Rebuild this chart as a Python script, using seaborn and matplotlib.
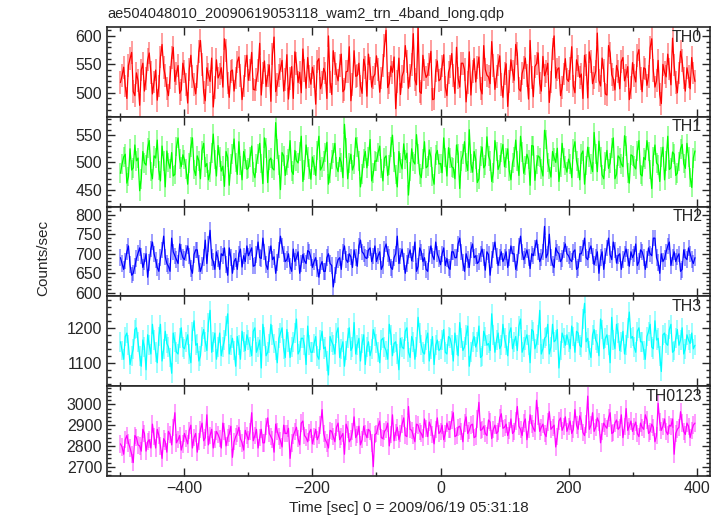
import numpy as np
import pandas as pd
import matplotlib
matplotlib.use("Agg")
import matplotlib.pyplot as plt
import seaborn as sns
from matplotlib.ticker import MultipleLocator, AutoMinorLocator

# -------------------------------
# Data
# bins of 2.5 s: "even" bins start at t_start, "odd" bins sit 2.5 s later
# -------------------------------

t_start = -500
t_step = 5

th0_even = [518, 545, 490, 560, 502, 535, 478, 552, 525, 570, 498, 540, 512, 585, 530, 495, 562, 520, 548, 505,
            537, 482, 566, 515, 528, 592, 501, 544, 520, 475, 558, 533, 510, 575, 492, 540, 526, 563, 488, 547,
            522, 571, 505, 539, 496, 556, 530, 485, 598, 514, 542, 503, 567, 525, 490, 551, 536, 577, 508, 529,
            545, 480, 560, 518, 535, 600, 497, 552, 521, 568, 506, 538, 486, 574, 530, 512, 559, 494, 543, 527,
            565, 501, 548, 610, 517, 536, 472, 561, 529, 583, 508, 550, 523, 615, 499, 540, 532, 573, 489, 556,
            524, 567, 495, 546, 531, 580, 510, 552, 484, 572, 537, 519, 563, 498, 541, 528, 590, 506, 549, 515,
            534, 476, 558, 522, 569, 503, 545, 530, 592, 493, 551, 517, 564, 538, 483, 577, 526, 544, 509, 560,
            520, 581, 500, 547, 533, 566, 491, 555, 527, 605, 512, 539, 496, 570, 524, 548, 507, 562, 531, 488,
            553, 519, 576, 502, 542, 528, 595, 510, 557, 481, 536, 568, 514, 549, 500, 573, 526, 544, 507, 535]
th0_odd = [530, 512, 548, 571, 495, 521, 540, 503, 558, 536, 519, 487, 563, 544, 508, 527, 580, 534, 499, 552,
           515, 541, 529, 498, 573, 550, 486, 532, 561, 509, 526, 544, 595, 517, 538, 503, 554, 530, 512, 566,
           540, 506, 523, 587, 535, 511, 549, 568, 502, 531, 557, 524, 489, 546, 572, 518, 500, 539, 562, 515,
           528, 555, 507, 543, 490, 519, 574, 533, 548, 502, 537, 581, 515, 529, 552, 499, 545, 568, 510, 533,
           541, 526, 583, 509, 547, 563, 520, 497, 538, 555, 531, 604, 514, 502, 566, 527, 550, 488, 539, 521,
           547, 510, 536, 569, 499, 526, 552, 541, 518, 496, 560, 545, 507, 583, 531, 516, 548, 529, 565, 492,
           551, 520, 538, 585, 507, 534, 561, 489, 527, 546, 570, 503, 530, 552, 519, 600, 541, 495, 533, 524,
           543, 512, 558, 527, 490, 549, 572, 516, 538, 522, 561, 498, 583, 532, 505, 537, 555, 521, 546, 509,
           531, 566, 525, 544, 513, 579, 539, 521, 497, 550, 528, 542, 596, 518, 535, 557, 503, 529, 562, 520]

th1_even = [480, 510, 462, 525, 490, 503, 448, 520, 495, 540, 470, 508, 485, 530, 455, 500, 518, 478, 545, 492,
            505, 460, 528, 487, 512, 470, 535, 498, 482, 552, 475, 510, 493, 520, 458, 515, 500, 538, 468, 506,
            490, 530, 472, 515, 498, 545, 463, 508, 486, 525, 450, 512, 495, 540, 478, 503, 520, 465, 532, 488,
            510, 476, 548, 492, 518, 460, 505, 535, 483, 500, 570, 470, 515, 496, 528, 455, 507, 490, 542, 480,
            502, 530, 466, 512, 495, 550, 478, 520, 488, 505, 440, 525, 497, 515, 472, 538, 493, 510, 460, 522,
            498, 545, 475, 508, 490, 532, 452, 515, 500, 560, 482, 506, 470, 528, 495, 512, 465, 540, 487, 518,
            492, 525, 468, 510, 503, 548, 480, 515, 458, 530, 496, 509, 475, 542, 488, 520, 500, 465, 535, 494,
            506, 472, 538, 490, 515, 460, 528, 497, 555, 483, 510, 470, 522, 499, 545, 478, 508, 492, 530, 462,
            512, 488, 540, 475, 505, 520, 452, 532, 495, 510, 468, 548, 490, 515, 480, 525, 498, 535, 472, 508]
th1_odd = [497, 515, 474, 486, 532, 508, 470, 499, 527, 483, 512, 541, 466, 503, 521, 489, 475, 529, 506, 514,
           488, 499, 545, 476, 503, 522, 492, 468, 517, 505, 531, 484, 456, 509, 497, 543, 478, 494, 520, 487,
           510, 482, 498, 535, 461, 527, 504, 489, 573, 495, 518, 476, 507, 484, 522, 499, 548, 486, 510, 469,
           495, 522, 486, 503, 537, 481, 517, 492, 509, 472, 526, 499, 486, 545, 503, 479, 520, 511, 466, 503,
           518, 489, 508, 476, 528, 501, 455, 499, 534, 517, 483, 502, 551, 479, 506, 490, 523, 474, 514, 497,
           481, 509, 527, 492, 470, 516, 503, 538, 485, 498, 520, 463, 512, 490, 547, 503, 481, 520, 496, 533,
           508, 484, 499, 541, 476, 519, 494, 505, 531, 467, 512, 488, 559, 500, 473, 509, 526, 491, 508, 482,
           497, 525, 503, 468, 521, 494, 510, 483, 515, 539, 477, 502, 489, 526, 470, 512, 497, 549, 481, 514,
           493, 521, 478, 509, 540, 487, 511, 499, 465, 528, 503, 487, 519, 476, 502, 533, 489, 510, 454, 521]

th2_even = [690, 660, 705, 672, 650, 688, 715, 665, 700, 678, 730, 684, 655, 710, 692, 668, 740, 695, 675, 705,
            685, 720, 662, 698, 710, 655, 690, 675, 760, 680, 705, 660, 695, 672, 715, 650, 688, 700, 666, 680,
            695, 715, 670, 730, 688, 705, 660, 720, 692, 678, 745, 700, 685, 668, 712, 690, 650, 698, 675, 705,
            665, 690, 640, 680, 655, 700, 670, 645, 685, 660, 720, 678, 692, 710, 668, 735, 700, 688, 715, 695,
            680, 705, 670, 725, 690, 660, 700, 675, 712, 650, 695, 682, 730, 668, 705, 690, 655, 720, 685, 700,
            672, 715, 688, 660, 705, 690, 740, 678, 700, 665, 725, 695, 680, 712, 658, 698, 685, 730, 670, 705,
            690, 665, 720, 700, 678, 745, 685, 710, 662, 695, 735, 680, 705, 690, 750, 672, 715, 700, 688, 725,
            695, 680, 710, 665, 700, 740, 685, 720, 672, 705, 690, 660, 715, 698, 730, 676, 700, 685, 712, 668,
            690, 725, 680, 705, 660, 715, 695, 740, 678, 700, 688, 720, 670, 705, 692, 655, 710, 685, 700, 675]
th2_odd = [675, 682, 720, 645, 668, 702, 695, 680, 640, 712, 700, 665, 690, 745, 675, 655, 705, 685, 725, 690,
           702, 695, 650, 710, 675, 670, 735, 725, 690, 660, 688, 700, 715, 645, 690, 680, 660, 712, 695, 720,
           705, 668, 698, 690, 740, 672, 700, 685, 650, 710, 720, 680, 700, 655, 680, 705, 675, 682, 708, 690,
           680, 662, 670, 655, 690, 675, 615, 670, 690, 705, 685, 700, 665, 690, 720, 705, 690, 710, 680, 720,
           695, 660, 712, 700, 665, 690, 745, 695, 680, 675, 710, 700, 655, 715, 680, 660, 700, 695, 730, 688,
           700, 670, 665, 705, 690, 725, 705, 655, 685, 710, 690, 675, 700, 690, 705, 645, 710, 695, 690, 680,
           705, 690, 700, 660, 720, 705, 695, 690, 700, 715, 705, 690, 770, 700, 690, 665, 705, 680, 710, 700,
           685, 705, 660, 700, 715, 690, 710, 695, 690, 650, 705, 695, 740, 685, 710, 695, 660, 700, 690, 705,
           700, 670, 710, 690, 685, 700, 740, 690, 650, 680, 705, 730, 690, 680, 700, 660, 690, 715, 685, 690]

th3_even = [1160, 1110, 1185, 1095, 1140, 1200, 1120, 1165, 1080, 1150, 1210, 1130, 1175, 1105, 1190, 1145, 1070, 1160, 1125, 1200,
            1140, 1180, 1100, 1220, 1155, 1120, 1195, 1135, 1250, 1160, 1110, 1185, 1145, 1205, 1125, 1170, 1090, 1150, 1190, 1135,
            1165, 1120, 1200, 1145, 1085, 1175, 1130, 1210, 1155, 1100, 1185, 1140, 1195, 1115, 1160, 1225, 1135, 1170, 1095, 1150,
            1130, 1175, 1110, 1190, 1145, 1065, 1160, 1125, 1200, 1140, 1090, 1170, 1135, 1215, 1150, 1105, 1180, 1145, 1120, 1195,
            1155, 1100, 1170, 1135, 1210, 1120, 1160, 1080, 1145, 1190, 1130, 1175, 1110, 1230, 1150, 1125, 1185, 1140, 1095, 1165,
            1140, 1195, 1125, 1170, 1105, 1150, 1215, 1135, 1180, 1090, 1160, 1145, 1205, 1120, 1175, 1155, 1240, 1130, 1185, 1150,
            1170, 1120, 1200, 1160, 1135, 1225, 1145, 1180, 1100, 1190, 1155, 1250, 1140, 1175, 1125, 1210, 1165, 1085, 1185, 1150,
            1160, 1205, 1130, 1185, 1145, 1270, 1170, 1115, 1195, 1155, 1225, 1140, 1180, 1100, 1165, 1210, 1135, 1190, 1150, 1245,
            1175, 1130, 1200, 1160, 1110, 1190, 1145, 1220, 1170, 1075, 1185, 1150, 1210, 1135, 1195, 1165, 1125, 1180, 1155, 1140]
th3_odd = [1135, 1175, 1150, 1120, 1195, 1160, 1090, 1145, 1180, 1125, 1165, 1100, 1210, 1140, 1155, 1115, 1185, 1130, 1170, 1145,
           1160, 1125, 1190, 1150, 1105, 1175, 1160, 1215, 1130, 1185, 1145, 1120, 1165, 1240, 1150, 1135, 1175, 1110, 1160, 1180,
           1145, 1190, 1130, 1165, 1210, 1120, 1155, 1180, 1135, 1170, 1200, 1115, 1160, 1145, 1185, 1125, 1170, 1150, 1205, 1130,
           1155, 1120, 1165, 1140, 1105, 1175, 1150, 1185, 1115, 1160, 1135, 1200, 1145, 1125, 1170, 1155, 1095, 1160, 1140, 1175,
           1130, 1165, 1145, 1110, 1180, 1155, 1125, 1170, 1140, 1200, 1115, 1160, 1145, 1185, 1130, 1165, 1105, 1175, 1150, 1135,
           1165, 1130, 1175, 1150, 1185, 1120, 1170, 1145, 1205, 1130, 1175, 1160, 1115, 1190, 1150, 1135, 1180, 1165, 1140, 1210,
           1150, 1185, 1140, 1175, 1205, 1130, 1165, 1150, 1195, 1140, 1180, 1125, 1170, 1210, 1145, 1160, 1195, 1135, 1170, 1180,
           1140, 1175, 1190, 1150, 1225, 1160, 1135, 1180, 1165, 1120, 1195, 1170, 1150, 1230, 1140, 1185, 1160, 1125, 1200, 1170,
           1145, 1190, 1160, 1135, 1175, 1210, 1140, 1165, 1120, 1180, 1155, 1195, 1130, 1170, 1150, 1200, 1140, 1165, 1185, 1150]

th0123_even = [2810, 2760, 2850, 2790, 2720, 2840, 2800, 2880, 2775, 2830, 2905, 2790, 2850, 2740, 2820, 2870, 2805, 2960, 2830, 2780,
               2860, 2810, 2900, 2840, 2770, 2880, 2825, 2950, 2850, 2790, 2870, 2835, 2910, 2800, 2860, 2745, 2845, 2890, 2815, 2875,
               2830, 2960, 2850, 2790, 2880, 2815, 2935, 2845, 2770, 2870, 2825, 2900, 2860, 2740, 2850, 2890, 2805, 2920, 2840, 2865,
               2810, 2880, 2850, 2975, 2830, 2790, 2870, 2820, 2910, 2845, 2760, 2880, 2835, 2940, 2855, 2805, 2895, 2840, 2870, 2700,
               2860, 2920, 2835, 2880, 2800, 2950, 2865, 2830, 2905, 2850, 2990, 2875, 2820, 2900, 2860, 2930, 2845, 2890, 2810, 2935,
               2870, 2830, 2910, 2880, 2960, 2850, 2895, 2820, 2940, 2875, 2905, 2845, 3010, 2880, 2860, 2925, 2835, 2900, 2870, 2955,
               2890, 2850, 2930, 2870, 2990, 2880, 2910, 2830, 2950, 2885, 3020, 2870, 2905, 2845, 2965, 2890, 2795, 2920, 2875, 2940,
               2895, 2860, 2975, 2880, 2920, 2850, 3040, 2900, 2870, 2935, 2815, 2910, 2885, 2960, 2865, 2925, 2890, 2840, 2980, 2895,
               2870, 2915, 2845, 2890, 2950, 2860, 2905, 2820, 3005, 2875, 2930, 2855, 2895, 2760, 2880, 2965, 2870, 2910, 2840, 2900]
th0123_odd = [2795, 2830, 2815, 2760, 2850, 2805, 2775, 2860, 2820, 2790, 2845, 2880, 2800, 2835, 2770, 2855, 2890, 2815, 2850, 2810,
              2835, 2875, 2790, 2860, 2820, 2910, 2840, 2805, 2880, 2830, 2855, 2790, 2870, 2840, 2895, 2820, 2860, 2835, 2780, 2850,
              2870, 2825, 2880, 2840, 2815, 2895, 2860, 2830, 2905, 2845, 2795, 2860, 2885, 2815, 2870, 2835, 2910, 2850, 2820, 2880,
              2845, 2830, 2900, 2860, 2815, 2875, 2845, 2890, 2830, 2860, 2905, 2820, 2870, 2840, 2895, 2830, 2860, 2880, 2815, 2855,
              2895, 2840, 2870, 2910, 2855, 2825, 2890, 2860, 2935, 2845, 2880, 2850, 2905, 2870, 2840, 2885, 2915, 2855, 2880, 2860,
              2900, 2860, 2880, 2925, 2845, 2890, 2870, 2910, 2860, 2900, 2840, 2930, 2875, 2895, 2850, 2915, 2880, 2860, 2935, 2885,
              2905, 2875, 2860, 2920, 2895, 2850, 2930, 2880, 2905, 2870, 2945, 2890, 2860, 2915, 2880, 2900, 2845, 2935, 2895, 2870,
              2920, 2880, 2900, 2945, 2865, 2905, 2880, 2960, 2890, 2915, 2870, 2895, 2935, 2860, 2910, 2880, 2950, 2895, 2875, 2920,
              2895, 2860, 2910, 2880, 2925, 2870, 2890, 2850, 2915, 2895, 2870, 2900, 2930, 2860, 2890, 2910, 2855, 2895, 2875, 2910]

bands = ["TH0", "TH1", "TH2", "TH3", "TH0123"]
errors = [20, 18, 21, 28, 42]

# -------------------------------
# Build data frame
# -------------------------------

t_even = t_start + t_step * np.arange(len(th0_even))
t_odd = t_even + t_step / 2

df_even = pd.DataFrame({"time": t_even, "TH0": th0_even, "TH1": th1_even,
                        "TH2": th2_even, "TH3": th3_even, "TH0123": th0123_even})
df_odd = pd.DataFrame({"time": t_odd, "TH0": th0_odd, "TH1": th1_odd,
                       "TH2": th2_odd, "TH3": th3_odd, "TH0123": th0123_odd})
df = pd.concat([df_even, df_odd]).sort_values("time").reset_index(drop=True)

colors = ["#ff0000", "#00ff00", "#0000ff", "#00ffff", "#ff00ff"]
ylims = [(458, 616), (419, 584), (591, 821), (1033, 1290), (2655, 3088)]
ymajor = [50, 50, 50, 100, 100]

# -------------------------------
# Plot
# -------------------------------

sns.set_style("ticks")
plt.rcParams['font.family'] = ['Liberation Sans', 'DejaVu Sans']

fig, axes = plt.subplots(5, 1, figsize=(7.23, 5.16), dpi=100, sharex=True)
fig.subplots_adjust(left=0.148, right=0.982, top=0.948, bottom=0.0775, hspace=0)

for ax, band, col, err, ylim, step in zip(axes, bands, colors, errors, ylims, ymajor):
    ax.errorbar(df["time"], df[band], yerr=err, fmt="none",
                ecolor=col, alpha=0.45, elinewidth=1.2)
    sns.lineplot(data=df, x="time", y=band, ax=ax, color=col,
                 linewidth=0.9, estimator=None)

    ax.set_xlim(-521, 421)
    ax.set_ylim(*ylim)
    ax.set_ylabel("")
    ax.set_xlabel("")

    ax.xaxis.set_major_locator(MultipleLocator(200))
    ax.xaxis.set_minor_locator(MultipleLocator(100))
    ax.yaxis.set_major_locator(MultipleLocator(step))
    ax.yaxis.set_minor_locator(AutoMinorLocator(5))
    ax.tick_params(which="both", direction="in", top=True, right=True,
                   labelsize=11.5, width=1)
    ax.tick_params(which="major", length=6)
    ax.tick_params(which="minor", length=3)
    for s in ax.spines.values():
        s.set_linewidth(1.2)

    ax.text(0.987, 0.97, band, transform=ax.transAxes, ha="right",
            va="top", fontsize=11.5)

axes[-1].set_xlabel("Time [sec] 0 = 2009/06/19 05:31:18", fontsize=11)
fig.text(0.06, 0.5, "Counts/sec", rotation=90, va="center", ha="center",
         fontsize=11)
fig.text(0.149, 0.972, "ae504048010_20090619053118_wam2_trn_4band_long.qdp",
         ha="left", va="center", fontsize=10.5)

plt.savefig("out.png", dpi=100)
